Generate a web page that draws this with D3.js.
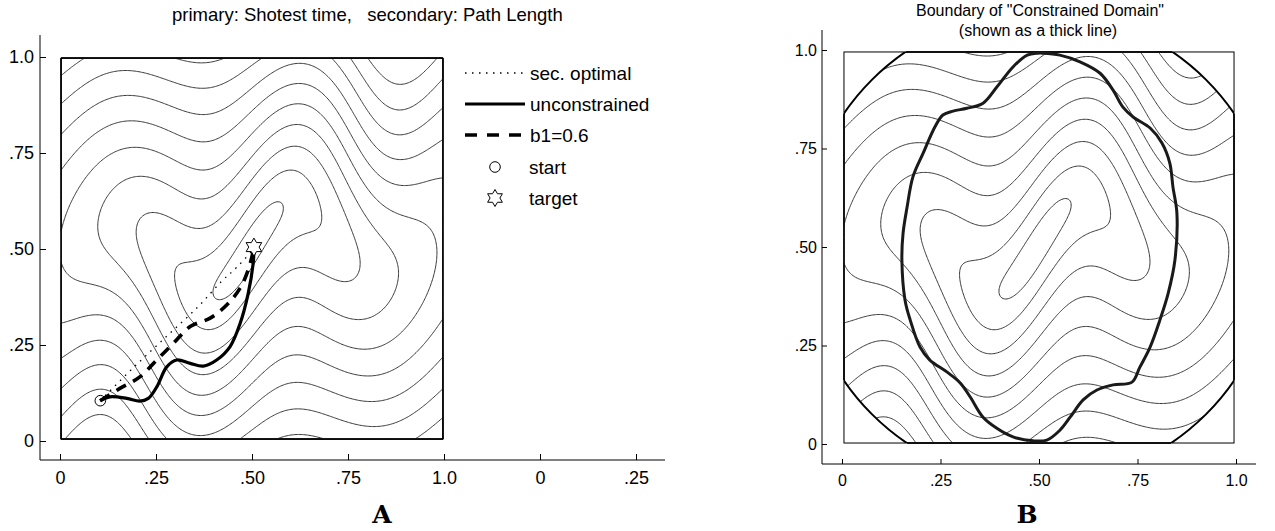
<!DOCTYPE html>
<html><head><meta charset="utf-8">
<script src="https://cdn.jsdelivr.net/npm/d3@7"></script>
<style>body{margin:0;background:#fff}svg{display:block;font-family:"Liberation Sans",Arial,sans-serif}text{white-space:pre}</style>
</head><body>
<svg id="chart" width="1275" height="531"></svg>
<script>
// ---------------- data ----------------
const axisTicks = [0, 0.25, 0.5, 0.75, 1];
const yTickLabels = ["0", ".25", ".50", ".75", "1.0"];
const xTicksA = [0, 0.25, 0.5, 0.75, 1, 1.25, 1.5];
const xTickLabelsA = ["0", ".25", ".50", ".75", "1.0", "0", ".25"];
const xTickLabelsB = ["0", ".25", ".50", ".75", "1.0"];

// contour surface model (parameters) and its levels
const contourLevels = [0.055, 0.115, 0.175, 0.235, 0.295, 0.355, 0.415, 0.475, 0.535, 0.595, 0.655];
const fieldCenter = [0.49, 0.5];
const fieldXWeight = [0.6];
const waveShape = [0.5, 0.62];            // period, crest position
const waveAmplitude = [0.035, 0.085, 0.3]; // far amp, extra amp on the diagonal band, band width

const startPoint = [0.105, 0.105];
const targetPoint = [0.505, 0.505];
const secOptimal = [[0.105,0.105],[0.19,0.19],[0.28,0.275],[0.36,0.35],[0.42,0.415],[0.46,0.452],[0.505,0.5]];
const unconstrained = [[0.104,0.105],[0.130,0.115],[0.174,0.111],[0.208,0.104],[0.230,0.111],[0.252,0.141],[0.278,0.193],[0.304,0.211],[0.339,0.202],[0.373,0.195],[0.408,0.211],[0.443,0.246],[0.469,0.306],[0.490,0.384],[0.503,0.462],[0.505,0.497]];
const b1Path = [[0.105,0.105],[0.156,0.137],[0.208,0.167],[0.252,0.211],[0.295,0.254],[0.339,0.298],[0.391,0.32],[0.434,0.354],[0.469,0.398],[0.49,0.445],[0.503,0.493]];

const domainBoundary = [[0.497,0.992],[0.47,0.987],[0.434,0.957],[0.393,0.906],[0.358,0.865],[0.317,0.852],[0.282,0.845],[0.256,0.835],[0.236,0.805],[0.206,0.738],[0.18,0.678],[0.165,0.60],[0.155,0.535],[0.152,0.467],[0.16,0.365],[0.173,0.315],[0.198,0.246],[0.223,0.213],[0.266,0.183],[0.30,0.155],[0.325,0.12],[0.358,0.068],[0.393,0.04],[0.434,0.018],[0.485,0.008],[0.52,0.01],[0.553,0.035],[0.579,0.068],[0.612,0.112],[0.647,0.137],[0.688,0.15],[0.736,0.157],[0.756,0.195],[0.782,0.246],[0.807,0.315],[0.828,0.383],[0.845,0.467],[0.85,0.586],[0.84,0.652],[0.832,0.713],[0.812,0.764],[0.782,0.802],[0.739,0.83],[0.713,0.855],[0.688,0.898],[0.655,0.941],[0.604,0.97],[0.553,0.987],[0.51,0.992]];
const feasibleCircle = [0.5, 0.5, 0.6];

const legendItems = ["sec. optimal", "unconstrained", "b1=0.6", "start", "target"];
const titleA = "primary: Shotest time,   secondary: Path Length";
const titleB = ["Boundary of \"Constrained Domain\"", "(shown as a thick line)"];

// ---------------- drawing ----------------
const svg = d3.select("#chart");

function field(x, y) {
  const X = x - fieldCenter[0];
  const dy = y - fieldCenter[1];
  const v = ((y - 0.5) - (x - 0.5)) / Math.SQRT2;
  const q = v / waveAmplitude[2];
  const amp = waveAmplitude[0] + waveAmplitude[1] * Math.exp(-(q * q));
  const Y = dy - amp * Math.cos(2 * Math.PI * (x - waveShape[1]) / waveShape[0]);
  const wx = fieldXWeight[0] * X;
  return Math.sqrt(wx * wx + Y * Y);
}

function drawContours(g, xs, ys, box) {
  const n = 300;
  const [x0, x1, y0, y1] = box;
  const vals = new Float64Array(n * n);
  for (let j = 0; j < n; j++) {
    const y = y0 + (y1 - y0) * j / (n - 1);
    for (let i = 0; i < n; i++) {
      const x = x0 + (x1 - x0) * i / (n - 1);
      vals[i + j * n] = field(x, y);
    }
  }
  const cs = d3.contours().size([n, n]).thresholds(contourLevels)(vals);
  const clamp = (v, a, b) => Math.max(a, Math.min(b, v));
  const proj = d3.geoTransform({
    point(px, py) {
      const x = clamp(x0 + (x1 - x0) * (px - 0.5) / (n - 1), x0, x1);
      const y = clamp(y0 + (y1 - y0) * (py - 0.5) / (n - 1), y0, y1);
      this.stream.point(xs(x), ys(y));
    }
  });
  const path = d3.geoPath(proj);
  g.selectAll("path.ct").data(cs).join("path").attr("class", "ct")
    .attr("d", path).attr("fill", "none").attr("stroke", "#222").attr("stroke-width", 0.9);
}

function hexagram(cx, cy, R) {
  const pts = d3.range(12).map(i => {
    const a = -Math.PI / 2 + i * Math.PI / 6;
    const r = i % 2 === 0 ? R : R / Math.sqrt(3);
    return [cx + r * Math.cos(a), cy + r * Math.sin(a)];
  });
  return "M" + pts.map(p => p.join(",")).join("L") + "Z";
}

// ===== Panel A =====
const xA = d3.scaleLinear().domain([0, 1]).range([60, 444]);
const yA = d3.scaleLinear().domain([0, 1]).range([441, 57]);
const xAaxisScale = d3.scaleLinear().domain([0, 1.5]).range([60, 636]);
const boxA = [0.003, 0.997, 0.005, 0.997];

const gA = svg.append("g");
drawContours(gA.append("g"), xA, yA, boxA);
gA.append("rect").attr("x", xA(boxA[0])).attr("y", yA(boxA[3]))
  .attr("width", xA(boxA[1]) - xA(boxA[0])).attr("height", yA(boxA[2]) - yA(boxA[3]))
  .attr("fill", "none").attr("stroke", "#000").attr("stroke-width", 1);

const line = d3.line().x(d => xA(d[0])).y(d => yA(d[1])).curve(d3.curveCatmullRom.alpha(0.5));
gA.append("path").attr("d", line(secOptimal)).attr("fill", "none").attr("stroke", "#000")
  .attr("stroke-width", 1.3).attr("stroke-dasharray", "1.5,5.5");
gA.append("path").attr("d", line(b1Path)).attr("fill", "none").attr("stroke", "#000")
  .attr("stroke-width", 3.6).attr("stroke-dasharray", "11,8");
gA.append("path").attr("d", line(unconstrained)).attr("fill", "none").attr("stroke", "#000")
  .attr("stroke-width", 3.2);
gA.append("circle").attr("cx", xA(startPoint[0])).attr("cy", yA(startPoint[1])).attr("r", 5.3)
  .attr("fill", "none").attr("stroke", "#000").attr("stroke-width", 1);
gA.append("path").attr("d", hexagram(xA(targetPoint[0]), yA(targetPoint[1]), 9))
  .attr("fill", "#fff").attr("stroke", "#000").attr("stroke-width", 1);

// axes A
const yAxisA = d3.axisLeft(yA).tickValues(axisTicks).tickFormat((d, i) => yTickLabels[i])
  .tickSizeInner(-6).tickSizeOuter(0).tickPadding(6);
const gyA = svg.append("g").attr("transform", "translate(40,0)").call(yAxisA);
gyA.select(".domain").remove();
gyA.append("line").attr("x1", 0).attr("x2", 0).attr("y1", 35).attr("y2", 460).attr("stroke", "#000");
const xAxisA = d3.axisBottom(xAaxisScale).tickValues(xTicksA).tickFormat((d, i) => xTickLabelsA[i])
  .tickSizeInner(-6).tickSizeOuter(0).tickPadding(11);
const gxA = svg.append("g").attr("transform", "translate(0,460)").call(xAxisA);
gxA.select(".domain").remove();
gxA.append("line").attr("x1", 40).attr("x2", 665).attr("y1", 0).attr("y2", 0).attr("stroke", "#000");
[gyA, gxA].forEach(g => g.selectAll("text").attr("font-size", 18).attr("font-family", "Liberation Sans, Arial, sans-serif").attr("fill", "#000"));

svg.append("text").attr("x", 172).attr("y", 21).attr("font-size", 18.5)
  .attr("xml:space", "preserve").text(titleA);

// legend A
const legY = [73, 104, 135, 167, 198];
const lg = svg.append("g");
lg.append("line").attr("x1", 465).attr("x2", 527).attr("y1", legY[0]).attr("y2", legY[0])
  .attr("stroke", "#000").attr("stroke-width", 1.3).attr("stroke-dasharray", "1.5,5.5");
lg.append("line").attr("x1", 465).attr("x2", 525).attr("y1", legY[1]).attr("y2", legY[1])
  .attr("stroke", "#000").attr("stroke-width", 3.2);
lg.append("line").attr("x1", 465).attr("x2", 525).attr("y1", legY[2]).attr("y2", legY[2])
  .attr("stroke", "#000").attr("stroke-width", 3.6).attr("stroke-dasharray", "12,10");
lg.append("circle").attr("cx", 495).attr("cy", legY[3]).attr("r", 5.3)
  .attr("fill", "none").attr("stroke", "#000");
lg.append("path").attr("d", hexagram(495, legY[4], 8.5)).attr("fill", "none").attr("stroke", "#000");
lg.selectAll("text").data(legendItems).join("text")
  .attr("x", (d, i) => i < 3 ? 530 : 529).attr("y", (d, i) => legY[i]).attr("dy", "0.35em")
  .attr("font-size", 19).text(d => d);

svg.append("text").attr("x", 382).attr("y", 523).attr("text-anchor", "middle")
  .attr("font-family", "DejaVu Serif, serif").attr("font-weight", "bold").attr("font-size", 25).text("A");

// ===== Panel B =====
const xB = d3.scaleLinear().domain([0, 1]).range([842, 1236]);
const yB = d3.scaleLinear().domain([0, 1]).range([444, 50]);
const boxB = [0.005, 0.995, 0.0025, 0.995];

const defs = svg.append("defs");
defs.append("clipPath").attr("id", "circB").append("circle")
  .attr("cx", xB(feasibleCircle[0])).attr("cy", yB(feasibleCircle[1]))
  .attr("r", xB(feasibleCircle[2]) - xB(0));
defs.append("clipPath").attr("id", "boxB").append("rect")
  .attr("x", xB(boxB[0])).attr("y", yB(boxB[3]))
  .attr("width", xB(boxB[1]) - xB(boxB[0])).attr("height", yB(boxB[2]) - yB(boxB[3]));

const gB = svg.append("g");
drawContours(gB.append("g").attr("clip-path", "url(#circB)"), xB, yB, boxB);
gB.append("g").attr("clip-path", "url(#boxB)").append("circle")
  .attr("cx", xB(feasibleCircle[0])).attr("cy", yB(feasibleCircle[1]))
  .attr("r", xB(feasibleCircle[2]) - xB(0))
  .attr("fill", "none").attr("stroke", "#000").attr("stroke-width", 2);
gB.append("rect").attr("x", xB(boxB[0])).attr("y", yB(boxB[3]))
  .attr("width", xB(boxB[1]) - xB(boxB[0])).attr("height", yB(boxB[2]) - yB(boxB[3]))
  .attr("fill", "none").attr("stroke", "#000").attr("stroke-width", 1);
const lineB = d3.line().x(d => xB(d[0])).y(d => yB(d[1])).curve(d3.curveCatmullRomClosed.alpha(0.5));
gB.append("path").attr("d", lineB(domainBoundary)).attr("fill", "none")
  .attr("stroke", "#1a1a1a").attr("stroke-width", 3);

const yAxisB = d3.axisLeft(yB).tickValues(axisTicks).tickFormat((d, i) => yTickLabels[i])
  .tickSizeInner(-5).tickSizeOuter(0).tickPadding(5);
const gyB = svg.append("g").attr("transform", "translate(822,0)").call(yAxisB);
gyB.select(".domain").remove();
gyB.append("line").attr("x1", 0).attr("x2", 0).attr("y1", 30).attr("y2", 464).attr("stroke", "#000");
const xAxisB = d3.axisBottom(xB).tickValues(axisTicks).tickFormat((d, i) => xTickLabelsB[i])
  .tickSizeInner(-5).tickSizeOuter(0).tickPadding(11);
const gxB = svg.append("g").attr("transform", "translate(0,464)").call(xAxisB);
gxB.select(".domain").remove();
gxB.append("line").attr("x1", 822).attr("x2", 1256).attr("y1", 0).attr("y2", 0).attr("stroke", "#000");
[gyB, gxB].forEach(g => g.selectAll("text").attr("font-size", 16).attr("font-family", "Liberation Sans, Arial, sans-serif").attr("fill", "#000"));

svg.append("text").attr("x", 1040).attr("y", 16).attr("text-anchor", "middle").attr("font-size", 16).text(titleB[0]);
svg.append("text").attr("x", 1038).attr("y", 36).attr("text-anchor", "middle").attr("font-size", 16).text(titleB[1]);
svg.append("text").attr("x", 1027).attr("y", 523).attr("text-anchor", "middle")
  .attr("font-family", "DejaVu Serif, serif").attr("font-weight", "bold").attr("font-size", 25).text("B");
</script>
</body></html>
